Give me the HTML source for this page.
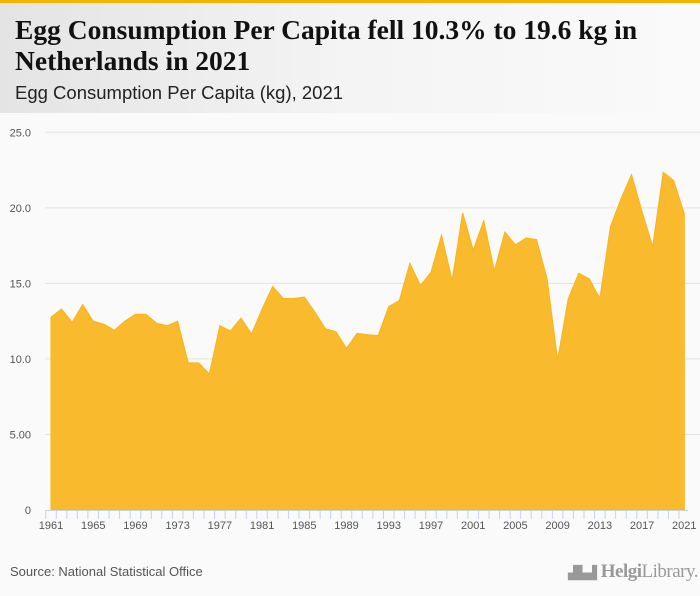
<!DOCTYPE html>
<html><head><meta charset="utf-8"><style>
body{margin:0;width:700px;height:596px;background:#fafafa;font-family:"Liberation Sans",sans-serif;overflow:hidden;position:relative}
#hdr{position:absolute;left:0;top:0;width:700px;height:113px;background:linear-gradient(90deg,#e4e4e4,#f4f4f4 50%,#fafafa);border-top:3px solid #f5b400;box-sizing:border-box}
#title{position:absolute;left:15px;top:11px;font-family:"Liberation Serif",serif;font-weight:bold;font-size:27.5px;line-height:31px;color:#111;letter-spacing:0}
#sub{position:absolute;left:15px;top:79px;font-size:18.5px;color:#222}
#src{position:absolute;left:10px;top:564px;font-size:13px;color:#555}
#logo{position:absolute;left:568px;top:561px;font-family:"Liberation Serif",serif;font-size:19px;color:#999;letter-spacing:-0.5px}
</style></head><body>
<div id="hdr">
<div id="title">Egg Consumption Per Capita fell 10.3% to 19.6 kg in<br>Netherlands in 2021</div>
<div id="sub">Egg Consumption Per Capita (kg), 2021</div>
</div>
<svg id="chart" width="700" height="596" style="position:absolute;left:0;top:0"></svg>
<div id="src">Source: National Statistical Office</div>
<div id="logo"><span style="font-size:13px">▟▙▟</span> <b>Helgi</b>Library.</div>
<script>
const years=[];for(let y=1961;y<=2021;y++)years.push(y);
const values=[12.76,13.3,12.43,13.6,12.5,12.3,11.9,12.5,12.96,12.96,12.36,12.2,12.5,9.74,9.74,9.0,12.2,11.85,12.7,11.65,13.3,14.8,14.0,14.0,14.1,13.1,12.0,11.8,10.7,11.7,11.6,11.55,13.46,13.86,16.33,14.86,15.74,18.2,15.2,19.67,17.2,19.16,15.83,18.4,17.55,18.0,17.9,15.3,9.93,13.97,15.67,15.3,14.0,18.76,20.6,22.2,19.75,17.44,22.36,21.8,19.6];
const yTicks=[0,5,10,15,20,25];
const yTickLabels=["0","5.00","10.0","15.0","20.0","25.0"];
const xTickYears=[1961,1965,1969,1973,1977,1981,1985,1989,1993,1997,2001,2005,2009,2013,2017,2021];
const svg=document.getElementById('chart');const NS='http://www.w3.org/2000/svg';
const x0=51,x1=684.3,yBase=510,yTop=132.3;
const xs=y=>x0+(y-1961)*(x1-x0)/60;
const ys=v=>yBase-v*(yBase-yTop)/25;
function mk(t,a){const e=document.createElementNS(NS,t);for(const k in a)e.setAttribute(k,a[k]);svg.appendChild(e);return e;}
yTicks.forEach((t,i)=>{
 if(t>0){const g=mk('line',{x1:45,x2:700,y1:ys(t),y2:ys(t),stroke:'#e3e3e3','stroke-width':1});
 
 }
 const l=mk('text',{x:31,y:ys(t)+4,'text-anchor':'end','font-size':11,fill:'#555','font-family':'Liberation Sans,sans-serif'});
 l.textContent=yTickLabels[i];
 
 
});
let d='M'+xs(years[0])+','+yBase;
years.forEach((y,i)=>{d+=' L'+xs(y)+','+ys(values[i]);});
d+=' L'+xs(years[years.length-1])+','+yBase+' Z';
const area=mk('path',{d:d,fill:'#f9bb2d',stroke:'#f7b519','stroke-width':1});


const ax=mk('line',{x1:45,x2:688,y1:yBase+0.5,y2:yBase+0.5,stroke:'#c8d3e6','stroke-width':1});


years.forEach(y=>{const t=mk('line',{x1:xs(y)-5.3,x2:xs(y)-5.3,y1:yBase,y2:yBase+9,stroke:'#c8d3e6','stroke-width':1});
 
 });
xTickYears.forEach(y=>{const l=mk('text',{x:xs(y),y:yBase+19,'text-anchor':'middle','font-size':11,fill:'#555','font-family':'Liberation Sans,sans-serif'});
 l.textContent=y;
 
 });
</script>
</body></html>
